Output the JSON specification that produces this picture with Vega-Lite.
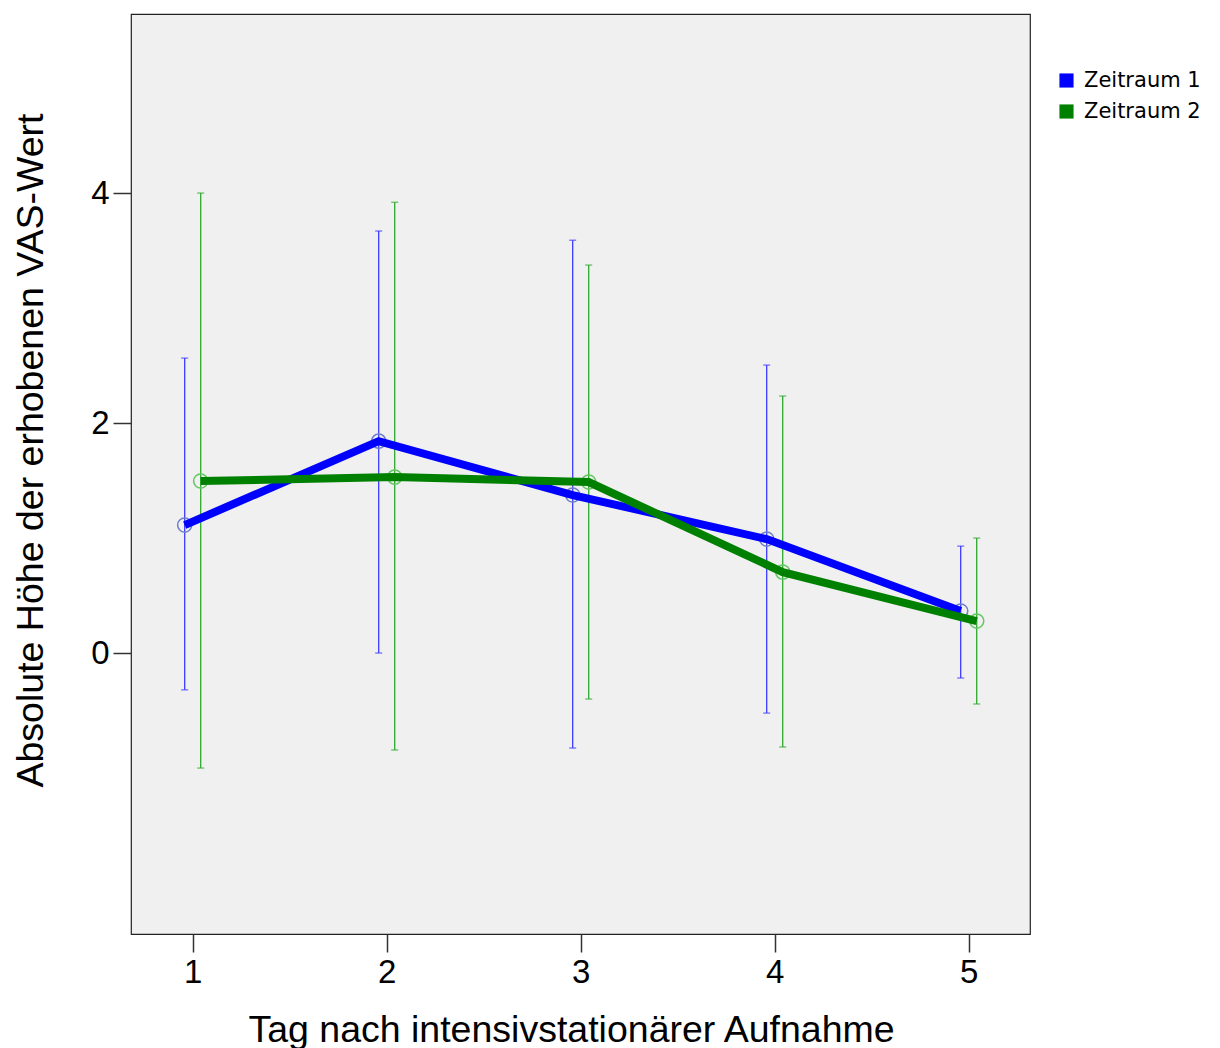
{
  "$schema": "https://vega.github.io/schema/vega-lite/v6.json",
  "width": 899,
  "height": 920,
  "autosize": "none",
  "padding": {"left": 131, "top": 14, "right": 190, "bottom": 114},
  "background": "white",
  "config": {
    "view": {"fill": "#f0f0f0", "stroke": "#222222", "strokeWidth": 1.2},
    "font": "Liberation Sans",
    "axis": {"grid": false, "domain": false, "tickColor": "#333333", "tickSize": 18, "tickWidth": 1.5, "labelColor": "#000000", "titleColor": "#000000", "labelFont": "Liberation Sans", "titleFont": "Liberation Sans", "titleFontWeight": "normal", "labelFontSize": 33, "titleFontSize": 37.5}
  },
  "data": {"values": [
    {"tag": 1, "zeitraum": "Zeitraum 1", "mean": 1.113, "lo": -0.32, "hi": 2.565},
    {"tag": 2, "zeitraum": "Zeitraum 1", "mean": 1.843, "lo": 0.0, "hi": 3.67},
    {"tag": 3, "zeitraum": "Zeitraum 1", "mean": 1.374, "lo": -0.826, "hi": 3.59},
    {"tag": 4, "zeitraum": "Zeitraum 1", "mean": 0.991, "lo": -0.522, "hi": 2.504},
    {"tag": 5, "zeitraum": "Zeitraum 1", "mean": 0.365, "lo": -0.217, "hi": 0.93},
    {"tag": 1, "zeitraum": "Zeitraum 2", "mean": 1.496, "lo": -1.0, "hi": 4.0},
    {"tag": 2, "zeitraum": "Zeitraum 2", "mean": 1.53, "lo": -0.843, "hi": 3.92},
    {"tag": 3, "zeitraum": "Zeitraum 2", "mean": 1.487, "lo": -0.4, "hi": 3.374},
    {"tag": 4, "zeitraum": "Zeitraum 2", "mean": 0.704, "lo": -0.817, "hi": 2.235},
    {"tag": 5, "zeitraum": "Zeitraum 2", "mean": 0.278, "lo": -0.443, "hi": 1.0}
  ]},
  "encoding": {
    "x": {"field": "tag", "type": "quantitative", "scale": {"domain": [0.682, 5.316], "nice": false, "zero": false}, "axis": {"values": [1, 2, 3, 4, 5], "format": "d", "title": "Tag nach intensivstationärer Aufnahme", "labelPadding": 4, "titlePadding": 22, "titleX": 440}},
    "y": {"field": "mean", "type": "quantitative", "scale": {"domain": [-2.443, 5.557], "nice": false, "zero": false}, "axis": {"values": [0, 2, 4], "title": "Absolute Höhe der erhobenen VAS-Wert", "labelPadding": 4, "titlePadding": 40, "titleY": 436}}
  },
  "layer": [
    {"transform": [{"filter": "datum.zeitraum === 'Zeitraum 1'"}], "mark": {"type": "rule", "xOffset": -8, "color": "#3a3aff", "strokeWidth": 1.3}, "encoding": {"y": {"field": "lo", "type": "quantitative"}, "y2": {"field": "hi"}}},
    {"transform": [{"filter": "datum.zeitraum === 'Zeitraum 1'"}], "mark": {"type": "tick", "orient": "horizontal", "xOffset": -8, "color": "#3a3aff", "size": 7, "thickness": 1.3}, "encoding": {"y": {"field": "lo", "type": "quantitative"}}},
    {"transform": [{"filter": "datum.zeitraum === 'Zeitraum 1'"}], "mark": {"type": "tick", "orient": "horizontal", "xOffset": -8, "color": "#3a3aff", "size": 7, "thickness": 1.3}, "encoding": {"y": {"field": "hi", "type": "quantitative"}}},
    {"transform": [{"filter": "datum.zeitraum === 'Zeitraum 2'"}], "mark": {"type": "rule", "xOffset": 8, "color": "#2ea82e", "strokeWidth": 1.3}, "encoding": {"y": {"field": "lo", "type": "quantitative"}, "y2": {"field": "hi"}}},
    {"transform": [{"filter": "datum.zeitraum === 'Zeitraum 2'"}], "mark": {"type": "tick", "orient": "horizontal", "xOffset": 8, "color": "#2ea82e", "size": 7, "thickness": 1.3}, "encoding": {"y": {"field": "lo", "type": "quantitative"}}},
    {"transform": [{"filter": "datum.zeitraum === 'Zeitraum 2'"}], "mark": {"type": "tick", "orient": "horizontal", "xOffset": 8, "color": "#2ea82e", "size": 7, "thickness": 1.3}, "encoding": {"y": {"field": "hi", "type": "quantitative"}}},
    {"transform": [{"filter": "datum.zeitraum === 'Zeitraum 1'"}], "mark": {"type": "point", "shape": "circle", "filled": false, "xOffset": -8, "color": "#6f80c8", "size": 200, "strokeWidth": 1.5, "opacity": 1}},
    {"transform": [{"filter": "datum.zeitraum === 'Zeitraum 2'"}], "mark": {"type": "point", "shape": "circle", "filled": false, "xOffset": 8, "color": "#62c862", "size": 200, "strokeWidth": 1.5, "opacity": 1}},
    {"transform": [{"filter": "datum.zeitraum === 'Zeitraum 1'"}], "mark": {"type": "line", "xOffset": -8, "strokeWidth": 8}, "encoding": {"color": {"field": "zeitraum", "type": "nominal", "scale": {"domain": ["Zeitraum 1", "Zeitraum 2"], "range": ["#0000ff", "#008000"]}, "legend": {"title": null, "orient": "none", "legendX": 925, "legendY": 56, "symbolType": "square", "symbolSize": 200, "labelFontSize": 21, "labelFont": "DejaVu Sans", "labelColor": "#000000", "rowPadding": 9, "labelOffset": 7, "encode": {"symbols": {"update": {"fill": {"scale": "color", "field": "value"}, "strokeWidth": {"value": 0}, "shape": {"value": "square"}}}}}}}},
    {"transform": [{"filter": "datum.zeitraum === 'Zeitraum 2'"}], "mark": {"type": "line", "xOffset": 8, "strokeWidth": 8}, "encoding": {"color": {"field": "zeitraum", "type": "nominal"}}}
  ]
}
